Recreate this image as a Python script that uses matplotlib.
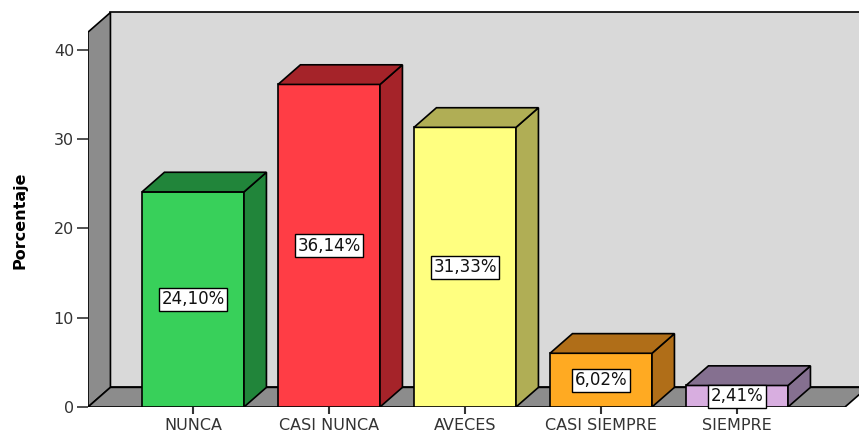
import matplotlib
matplotlib.use("Agg")
from matplotlib import pyplot as plt
import numpy as np

categorias = ['NUNCA', 'CASI NUNCA', 'AVECES', 'CASI SIEMPRE', 'SIEMPRE']
porcentajes = [24.10, 36.14, 31.33, 6.02, 2.41]
etiquetas = ['24,10%', '36,14%', '31,33%', '6,02%', '2,41%']
color_frente = ['#38d05a', '#ff3d45', '#ffff80', '#ffaa22', '#d8aee0']
color_lado = ['#21853a', '#a52329', '#b0ae55', '#b06e18', '#857090']

# profundidad del efecto 3D (en unidades de datos)
dx, dy = 0.165, 2.2
ancho = 0.75
x0, x1 = -0.772, 4.897
x_suelo = 4.794
alto_pared = 42.0

fig = plt.figure(figsize=(8.59, 4.33), dpi=100)
ax = fig.add_axes([88 / 859, 26 / 433, 771 / 859, 407 / 433])
ax.set_xlim(x0, x1)
ax.set_ylim(0, 45.6)

lw = 1.2
# pared del fondo, pared izquierda y suelo
ax.fill([x0 + dx, x1 + 0.2, x1 + 0.2, x0 + dx],
        [dy, dy, alto_pared + dy, alto_pared + dy],
        facecolor='#d9d9d9', edgecolor='black', lw=lw, zorder=1)
ax.fill([x0, x0, x0 + dx, x0 + dx],
        [0, alto_pared, alto_pared + dy, dy],
        facecolor='#8c8c8c', edgecolor='black', lw=lw, zorder=1)
ax.fill([x0, x_suelo, x_suelo + dx, x0 + dx],
        [0, 0, dy, dy],
        facecolor='#8c8c8c', edgecolor='black', lw=lw, zorder=1)

pos = np.arange(len(categorias))
ax.bar(pos, porcentajes, width=ancho, color=color_frente,
       edgecolor='black', linewidth=lw, zorder=3)

for i, v in enumerate(porcentajes):
    izq, der = pos[i] - ancho / 2, pos[i] + ancho / 2
    # cara lateral
    ax.fill([der, der, der + dx, der + dx], [0, v, v + dy, dy],
            facecolor=color_lado[i], edgecolor='black', lw=lw, zorder=3)
    # cara superior
    ax.fill([izq, der, der + dx, izq + dx], [v, v, v + dy, v + dy],
            facecolor=color_lado[i], edgecolor='black', lw=lw, zorder=3)
    ax.text(pos[i], v / 2, etiquetas[i], ha='center', va='center',
            fontsize=12, color='#111111', zorder=5,
            bbox=dict(boxstyle='square,pad=0.15', facecolor='white',
                      edgecolor='black', linewidth=1.0))

for s in ax.spines.values():
    s.set_visible(False)

ax.set_yticks([0, 10, 20, 30, 40])
ax.set_xticks(pos)
ax.set_xticklabels(categorias)
ax.tick_params(axis='y', direction='out', length=8, width=1.2,
               colors='#333333', labelsize=11.5, pad=2)
ax.tick_params(axis='x', direction='out', length=5, width=1.5,
               colors='#333333', labelsize=11.5, pad=3)

ax.set_ylabel('Porcentaje', fontsize=11.5, fontweight='bold', color='black')
ax.yaxis.set_label_coords(-0.078, 0.46)

fig.savefig('out.png', dpi=100)
